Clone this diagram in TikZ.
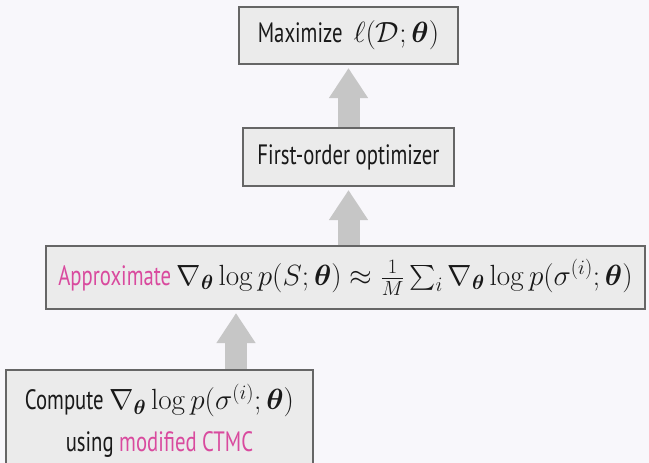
\RequirePackage{fix-cm}
\documentclass[tikz,border=0pt]{standalone}
\usepackage{amsmath}
\usepackage{bm}
\usepackage[no-math]{fontspec}
\setmainfont{PT Sans}[FakeStretch=0.74]
\usetikzlibrary{arrows.meta}
\definecolor{bgcol}{HTML}{F8F7FB}
\definecolor{boxfill}{HTML}{EBEBEB}
\definecolor{boxline}{HTML}{666666}
\definecolor{flowgray}{HTML}{C6C6C6}
\definecolor{accent}{HTML}{D94A9E}
% formulas are set a little larger than the surrounding words
\newcommand\mth[1]{{\fontsize{29.2}{42}\selectfont$#1$}}
\tikzset{
  stage/.style={draw=boxline, line width=2pt, fill=boxfill, inner sep=0pt,
    align=center, text=black!90, font=\fontsize{28}{42}\selectfont},
  flow/.style={draw=flowgray, line width=22pt,
    -{Triangle[width=37pt,length=30pt]}, shorten >=3pt},
}
\begin{document}
\begin{tikzpicture}[x=1pt,y=-1pt]
  \fill[bgcol] (0,0) rectangle (649,463);
  \useasboundingbox (0,0) rectangle (649,463);

  % the four stages, top to bottom
  \node[stage, minimum width=219pt, minimum height=57pt] (goal) at (348.5,35.5)
    {Maximize \ \mth{\ell(\mathcal{D};\bm{\theta})}};
  \node[stage, minimum width=211pt, minimum height=58pt] (opt) at (348.5,157)
    {First-order optimizer};
  \node[stage, minimum width=599pt, minimum height=63pt] (approx) at (345.5,277.5)
    {\textcolor{accent}{Approximate} \mth{\nabla_{\bm{\theta}}\log p(S;\bm{\theta})
     \approx \frac{1}{M}\sum_i \nabla_{\bm{\theta}}\log p(\sigma^{(i)};\bm{\theta})}};
  \node[stage, minimum width=307pt, minimum height=102pt] (grad) at (159.5,421)
    {Compute \mth{\nabla_{\bm{\theta}}\log p(\sigma^{(i)};\bm{\theta})}\\
     using \textcolor{accent}{modified CTMC}};

  % block arrows between the stages
  \draw[flow] (opt.north) -- (goal.south);
  \draw[flow] (opt.north |- approx.north) -- (opt.south);
  \draw[flow] (236,0 |- grad.north) -- (236,0 |- approx.south);
\end{tikzpicture}
\end{document}
